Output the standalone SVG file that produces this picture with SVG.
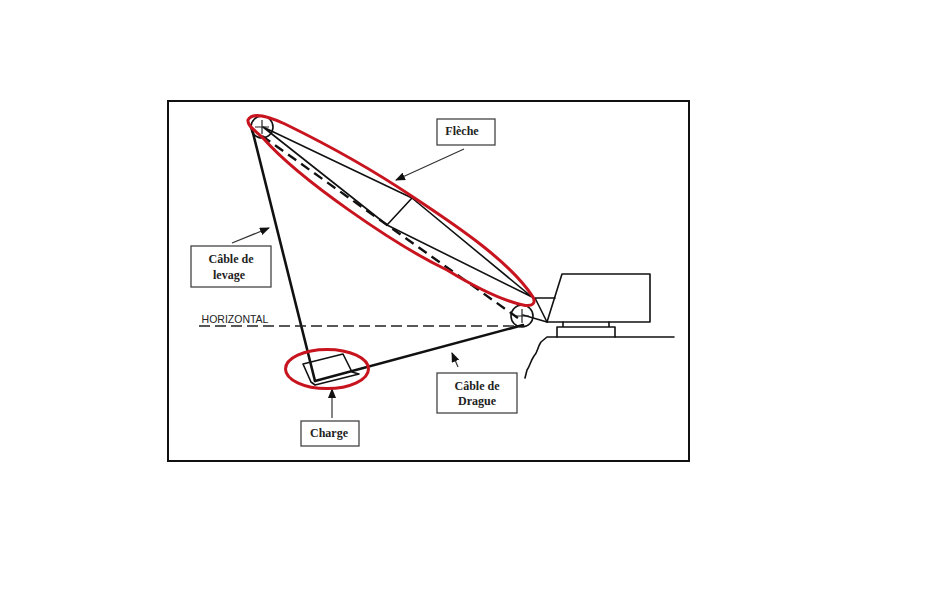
<svg xmlns="http://www.w3.org/2000/svg" width="939" height="599" viewBox="0 0 939 599">
<defs>
<marker id="ah" viewBox="0 0 10 8" refX="9" refY="4" markerWidth="10" markerHeight="8" markerUnits="userSpaceOnUse" orient="auto"><path d="M0 0L10 4L0 8z" fill="#111"/></marker>
</defs>
<style>
.k{fill:none;stroke:#111;stroke-width:1.6;stroke-linecap:round;stroke-linejoin:round}
.b{fill:none;stroke:#111;stroke-width:2.6;stroke-linecap:round}
.d{fill:none;stroke:#111;stroke-width:2.4;stroke-dasharray:10 6}
.h{fill:none;stroke:#222;stroke-width:1.4;stroke-dasharray:11 5}
.t{fill:none;stroke:#222;stroke-width:1.2}
.r{fill:none;stroke:#c8141e;stroke-width:3}
.a{fill:none;stroke:#333;stroke-width:1.2;marker-end:url(#ah)}
.box{fill:#fff;stroke:#444;stroke-width:1.3}
text{font-family:"Liberation Serif","Times New Roman",serif;font-size:12px;font-weight:bold;fill:#222;text-anchor:middle}
</style>
<rect width="939" height="599" fill="#fff"/>
<rect x="168" y="101" width="521" height="360" fill="#fff" stroke="#111" stroke-width="2"/>
<g id="machine">
<path class="k" d="M562 274H650V322H547Z"/>
<path class="k" d="M535 298H555M535 298L547 322"/>
<path class="k" d="M563 322V327H609V322M557 337V327H615V337"/>
<path class="k" d="M547 337H674M547 337L541 342C537 348 538 352 534 356C530 362 530 366 527 370L525 378"/>
<path class="k" d="M523 315L547 322"/>
</g>
<g id="boom">
<path class="k" d="M263 127L412 198L532 297L387 225L263 127"/>
<path class="k" d="M412 198L387 225"/>
<circle class="k" cx="262" cy="127" r="11"/>
<path class="t" d="M262 120V134M255 127H269"/>
<circle class="k" cx="522" cy="316" r="11"/>
<path class="t" d="M522 309V323M515 316H529"/>
</g>
<g id="connectors">
<path class="d" d="M262 136L518 318"/>
<path class="b" d="M252 129L315 381"/>
<path class="b" d="M315 381L523 325"/>
<path class="h" d="M199 326H516"/>
<path class="a" d="M464 149L396 180"/>
<path class="a" d="M232 243L269 228"/>
<path class="a" d="M332 418V389"/>
<path class="a" d="M458 367L452 353"/>
</g>
<g id="charge">
<path class="k" d="M303 364L343 354L352 372L359 374L315 385L311 382L303 364"/>
</g>
<g id="red-outlines">
<path class="r" d="M248 120C252 112 268 116 285 124C330 146 370 168 413 197C460 228 510 262 533 297C536 303 533 307 523 305C500 300 470 284 447 270C395 245 300 180 263 138C256 131 247 126 248 120Z"/>
<ellipse class="r" cx="327" cy="369" rx="41.500" ry="19.500"/>
</g>
<text x="235" y="323" style="font-family:'Liberation Sans',Arial,sans-serif;font-size:10.500px;font-weight:normal">HORIZONTAL</text>
<g id="label-fleche"><rect class="box" x="437" y="119" width="58" height="26"/><text x="462" y="135">Flèche</text></g>
<g id="label-levage"><rect class="box" x="191" y="246" width="80" height="41"/><text x="231" y="263">Câble de</text><text x="229" y="279">levage</text></g>
<g id="label-charge"><rect class="box" x="301" y="421" width="58" height="25"/><text x="329" y="437">Charge</text></g>
<g id="label-drague"><rect class="box" x="437" y="373" width="80" height="40"/><text x="477" y="390">Câble de</text><text x="477" y="405">Drague</text></g>
</svg>
